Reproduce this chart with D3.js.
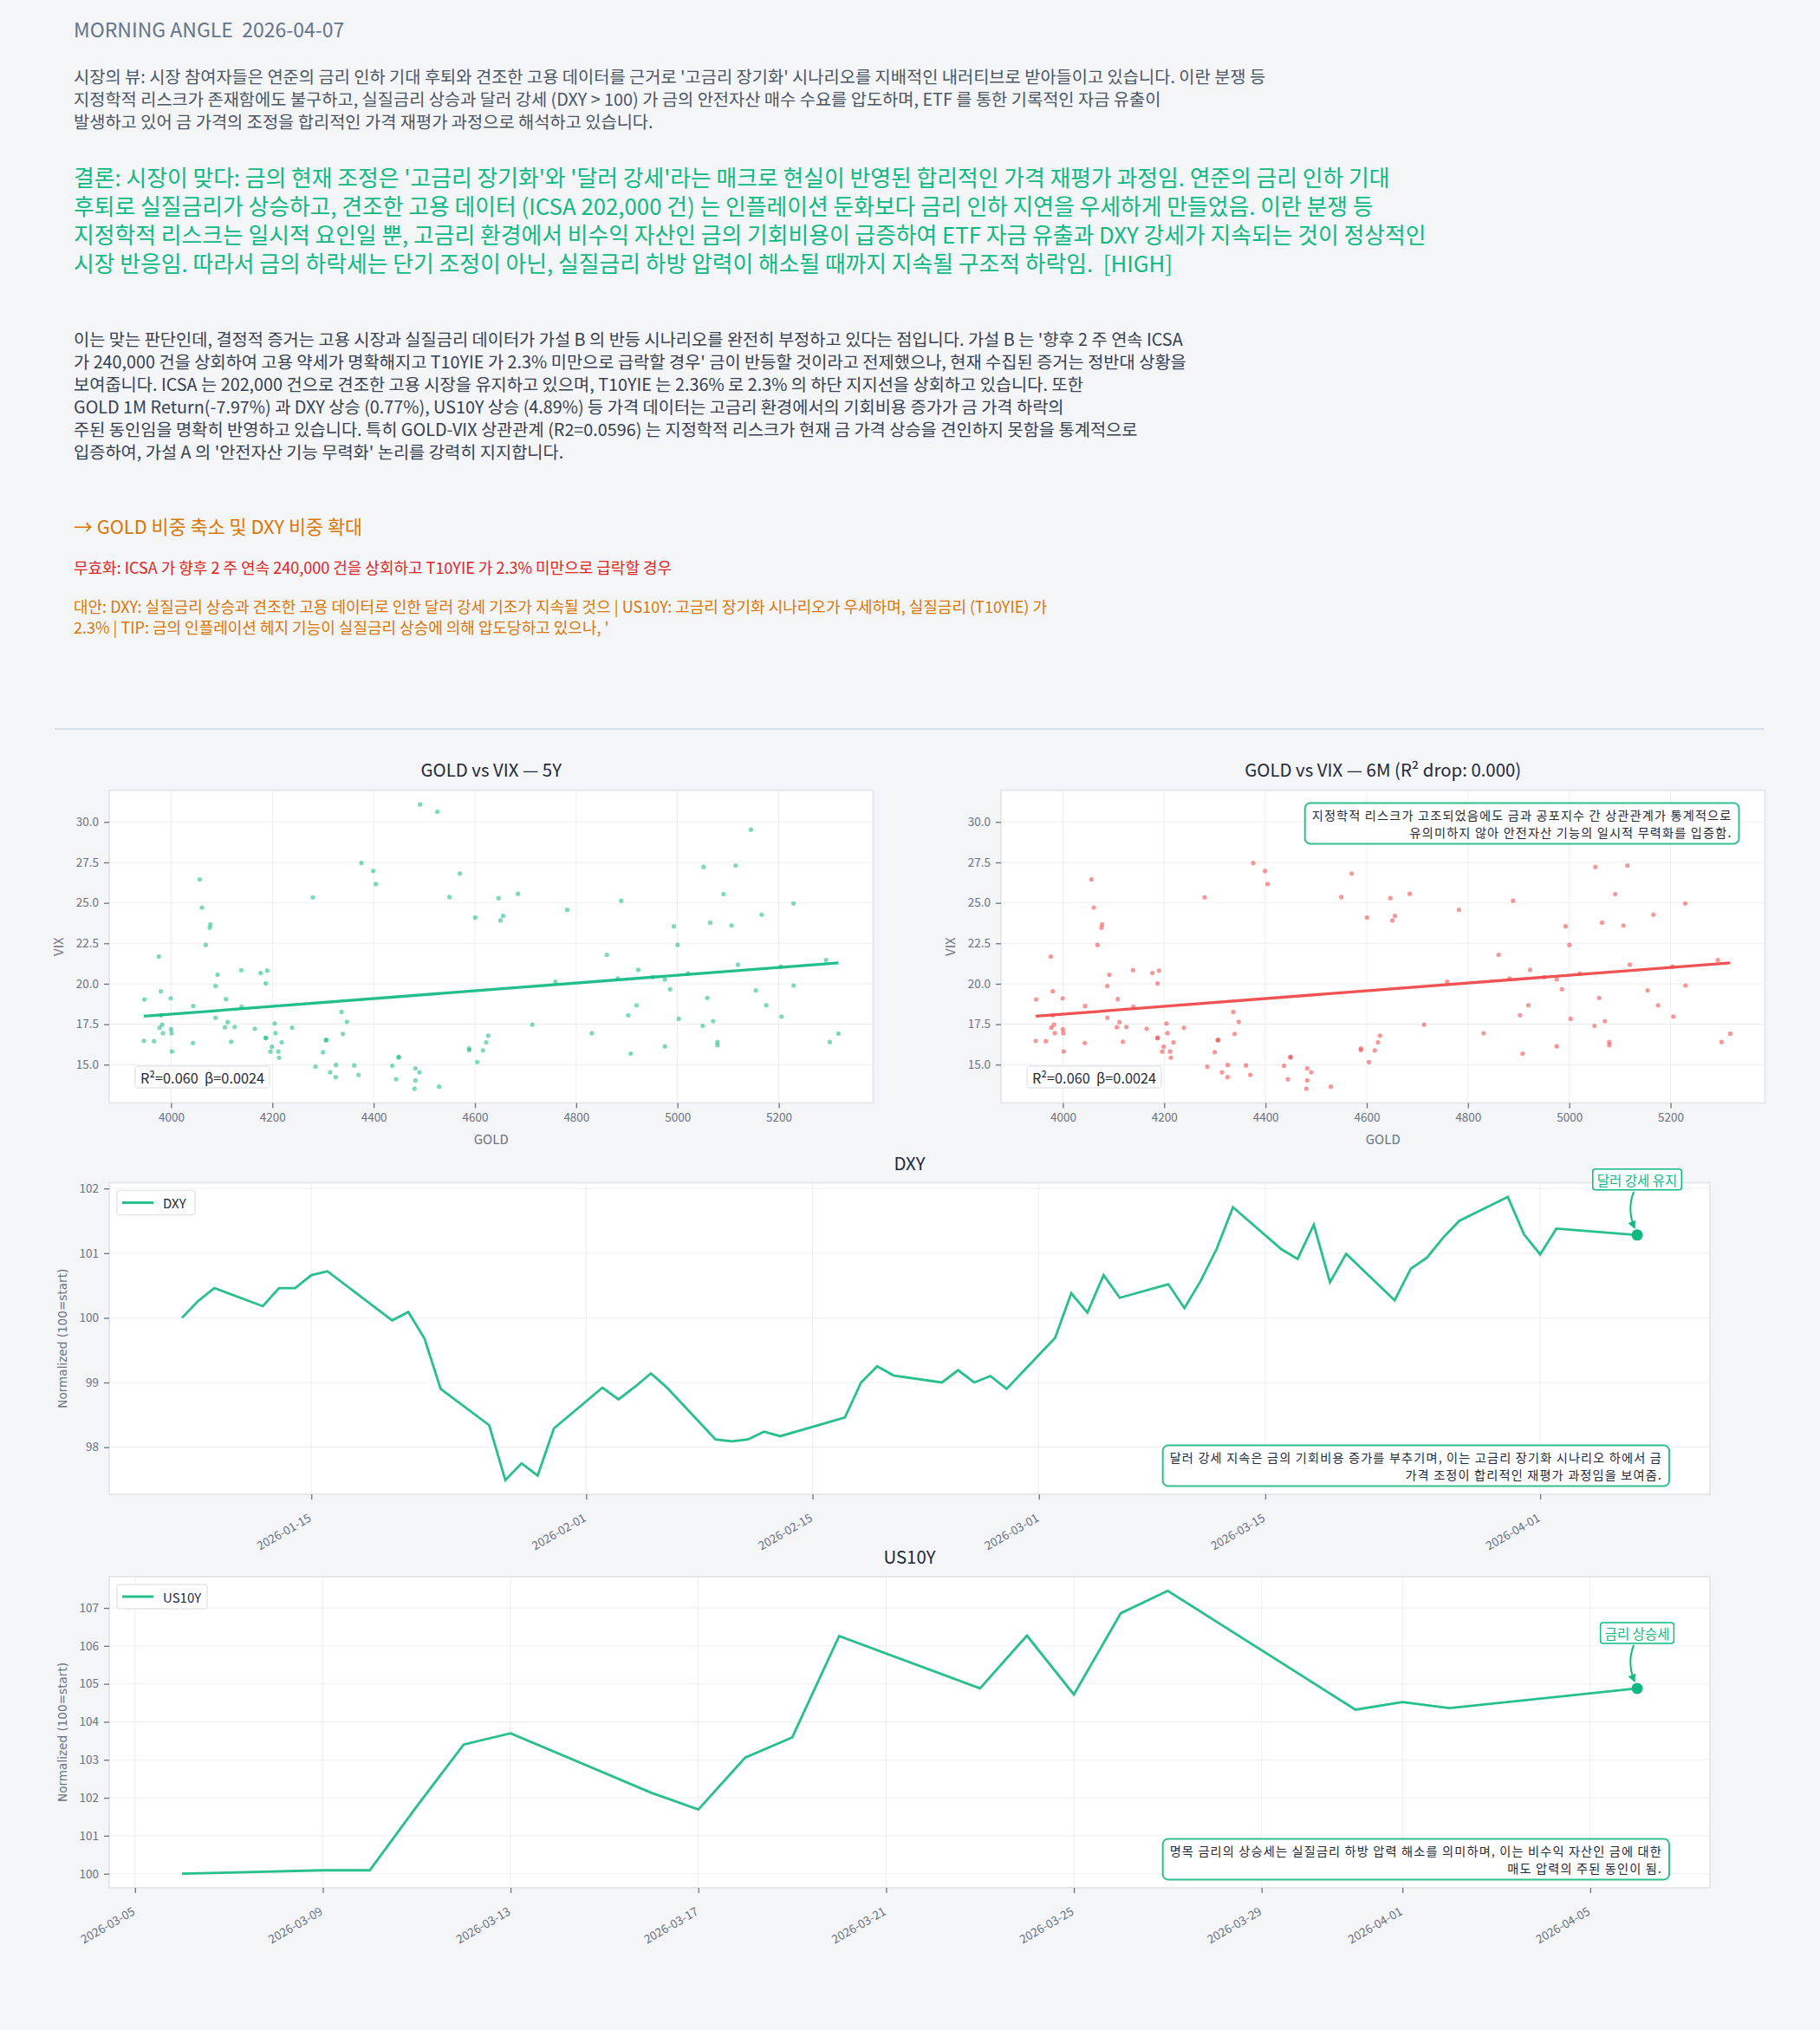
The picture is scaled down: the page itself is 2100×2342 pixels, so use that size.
<!DOCTYPE html>
<html><head><meta charset="utf-8">
<script src="https://cdn.jsdelivr.net/npm/d3@7"></script>
<style>
html,body{margin:0;padding:0;background:#f4f5f7;}
svg{display:block;}
text{font-family:"Noto Sans CJK KR","Noto Sans",sans-serif;white-space:pre;}
</style></head><body>
<svg id="c" width="2100" height="2342"></svg>
<script>
// ---------------- DATA ----------------
const headerTitle = "MORNING ANGLE  2026-04-07";
const viewLines = [
 "시장의 뷰: 시장 참여자들은 연준의 금리 인하 기대 후퇴와 견조한 고용 데이터를 근거로 '고금리 장기화' 시나리오를 지배적인 내러티브로 받아들이고 있습니다. 이란 분쟁 등",
 "지정학적 리스크가 존재함에도 불구하고, 실질금리 상승과 달러 강세 (DXY > 100) 가 금의 안전자산 매수 수요를 압도하며, ETF 를 통한 기록적인 자금 유출이",
 "발생하고 있어 금 가격의 조정을 합리적인 가격 재평가 과정으로 해석하고 있습니다."
];
const conclusionLines = [
 "결론: 시장이 맞다: 금의 현재 조정은 '고금리 장기화'와 '달러 강세'라는 매크로 현실이 반영된 합리적인 가격 재평가 과정임. 연준의 금리 인하 기대",
 "후퇴로 실질금리가 상승하고, 견조한 고용 데이터 (ICSA 202,000 건) 는 인플레이션 둔화보다 금리 인하 지연을 우세하게 만들었음. 이란 분쟁 등",
 "지정학적 리스크는 일시적 요인일 뿐, 고금리 환경에서 비수익 자산인 금의 기회비용이 급증하여 ETF 자금 유출과 DXY 강세가 지속되는 것이 정상적인",
 "시장 반응임. 따라서 금의 하락세는 단기 조정이 아닌, 실질금리 하방 압력이 해소될 때까지 지속될 구조적 하락임.  [HIGH]"
];
const evidenceLines = [
 "이는 맞는 판단인데, 결정적 증거는 고용 시장과 실질금리 데이터가 가설 B 의 반등 시나리오를 완전히 부정하고 있다는 점입니다. 가설 B 는 '향후 2 주 연속 ICSA",
 "가 240,000 건을 상회하여 고용 약세가 명확해지고 T10YIE 가 2.3% 미만으로 급락할 경우' 금이 반등할 것이라고 전제했으나, 현재 수집된 증거는 정반대 상황을",
 "보여줍니다. ICSA 는 202,000 건으로 견조한 고용 시장을 유지하고 있으며, T10YIE 는 2.36% 로 2.3% 의 하단 지지선을 상회하고 있습니다. 또한",
 "GOLD 1M Return(-7.97%) 과 DXY 상승 (0.77%), US10Y 상승 (4.89%) 등 가격 데이터는 고금리 환경에서의 기회비용 증가가 금 가격 하락의",
 "주된 동인임을 명확히 반영하고 있습니다. 특히 GOLD-VIX 상관관계 (R2=0.0596) 는 지정학적 리스크가 현재 금 가격 상승을 견인하지 못함을 통계적으로",
 "입증하여, 가설 A 의 '안전자산 기능 무력화' 논리를 강력히 지지합니다."
];
const actionLine = "→ GOLD 비중 축소 및 DXY 비중 확대";
const invalidLine = "무효화: ICSA 가 향후 2 주 연속 240,000 건을 상회하고 T10YIE 가 2.3% 미만으로 급락할 경우";
const altLines = [
 "대안: DXY: 실질금리 상승과 견조한 고용 데이터로 인한 달러 강세 기조가 지속될 것으 | US10Y: 고금리 장기화 시나리오가 우세하며, 실질금리 (T10YIE) 가",
 "2.3% | TIP: 금의 인플레이션 헤지 기능이 실질금리 상승에 의해 압도당하고 있으나, '"
];

const goldX = [3947.5,3946.4,3966.4,3976.0,3980.0,3980.0,3982.3,3977.2,3984.0,3999.4,4000.0,4001.0,4001.7,4043.9,4043.3,4056.5,4061.0,4077.6,4076.4,4068.4,4091.8,4087.8,4108.4,4087.8,4111.8,4106.6,4125.5,4118.6,4138.6,4139.2,4176.8,4189.9,4187.0,4165.4,4187.0,4187.0,4204.7,4206.4,4199.0,4196.2,4211.6,4218.4,4213.3,4239.0,4280.0,4285.1,4300.0,4305.7,4306.8,4314.2,4325.6,4325.0,4336.5,4347.3,4339.3,4361.6,4370.1,4375.8,4399.2,4404.3,4436.8,4444.3,4449.4,4449.4,4482.5,4490.5,4482.5,4480.8,4491.6,4525.8,4529.2,4549.8,4570.3,4600.5,4588.5,4588.5,4604.5,4615.9,4622.2,4626.2,4646.6,4655.7,4650.6,4684.8,4713.3,4758.9,4782.3,4830.8,4860.5,4882.1,4889.0,4922.6,4919.2,4902.7,4907.8,4950.6,4975.1,4985.4,4975.1,4992.8,5000.2,5002.5,5020.7,5051.5,5049.8,5058.9,5064.6,5070.3,5078.9,5078.9,5090.8,5106.8,5114.8,5119.4,5145.0,5154.7,5166.1,5175.3,5203.8,5205.5,5228.9,5229.4,5293.3,5300.7,5317.8];
const vixY = [19.03,16.47,16.45,21.68,19.53,18.05,17.47,17.28,16.95,19.10,17.19,16.95,15.82,18.62,16.34,26.45,24.71,23.67,23.46,22.40,20.56,19.86,19.05,17.90,17.63,17.31,17.33,16.42,20.84,18.58,20.66,20.81,20.02,17.22,16.67,16.63,17.54,16.95,16.11,15.81,15.81,16.38,15.43,17.28,25.34,14.87,15.77,16.52,16.52,14.53,14.98,14.23,18.26,17.65,16.90,14.95,14.37,27.46,26.97,26.16,14.93,14.10,15.45,15.48,14.77,14.53,14.03,13.51,31.08,30.63,13.64,25.36,26.81,24.09,16.00,15.90,15.16,15.88,16.38,16.79,25.29,24.19,23.91,25.56,17.47,20.13,24.57,16.94,21.79,20.32,25.13,20.86,18.67,18.05,15.68,20.41,20.27,19.66,16.13,23.55,22.40,17.83,20.63,27.22,17.40,19.12,23.78,17.69,16.40,16.20,25.54,23.60,27.31,21.18,29.52,19.59,24.27,18.67,21.06,17.97,24.96,19.89,21.47,16.40,16.92];
const goldTicks = [4000,4200,4400,4600,4800,5000,5200];
const vixTicks = [15,17.5,20,22.5,25,27.5,30];
const statLabel = "R²=0.060  β=0.0024";
const scatterTitles = ["GOLD vs VIX — 5Y", "GOLD vs VIX — 6M (R² drop: 0.000)"];
const scatterNote = ["지정학적 리스크가 고조되었음에도 금과 공포지수 간 상관관계가 통계적으로", "유의미하지 않아 안전자산 기능의 일시적 무력화를 입증함."];

const dxyDates = ["2026-01-07","2026-01-08","2026-01-09","2026-01-12","2026-01-13","2026-01-14","2026-01-15","2026-01-16","2026-01-20","2026-01-21","2026-01-22","2026-01-23","2026-01-26","2026-01-27","2026-01-28","2026-01-29","2026-01-30","2026-02-02","2026-02-03","2026-02-04","2026-02-05","2026-02-06","2026-02-09","2026-02-10","2026-02-11","2026-02-12","2026-02-13","2026-02-17","2026-02-18","2026-02-19","2026-02-20","2026-02-23","2026-02-24","2026-02-25","2026-02-26","2026-02-27","2026-03-02","2026-03-03","2026-03-04","2026-03-05","2026-03-06","2026-03-09","2026-03-10","2026-03-11","2026-03-12","2026-03-13","2026-03-16","2026-03-17","2026-03-18","2026-03-19","2026-03-20","2026-03-23","2026-03-24","2026-03-25","2026-03-26","2026-03-27","2026-03-30","2026-03-31","2026-04-01","2026-04-02","2026-04-07"];
const dxyValues = [100.0,100.26,100.46,100.18,100.46,100.46,100.66,100.72,99.96,100.09,99.68,98.90,98.34,97.49,97.75,97.56,98.29,98.92,98.74,98.93,99.14,98.92,98.12,98.09,98.12,98.24,98.17,98.46,99.0,99.25,99.11,99.0,99.19,99.0,99.10,98.90,99.69,100.38,100.08,100.66,100.31,100.52,100.15,100.57,101.07,101.71,101.06,100.91,101.44,100.55,100.99,100.27,100.76,100.93,101.24,101.50,101.87,101.29,100.98,101.38,101.28];
const dxyTicks = ["2026-01-15","2026-02-01","2026-02-15","2026-03-01","2026-03-15","2026-04-01"];
const dxyYTicks = [98,99,100,101,102];

const usDates = ["2026-03-06","2026-03-09","2026-03-10","2026-03-11","2026-03-12","2026-03-13","2026-03-16","2026-03-17","2026-03-18","2026-03-19","2026-03-20","2026-03-23","2026-03-24","2026-03-25","2026-03-26","2026-03-27","2026-03-31","2026-04-01","2026-04-02","2026-04-06"];
const usValues = [100.0,100.09,100.09,101.77,103.40,103.70,102.13,101.69,103.06,103.59,106.26,104.88,106.27,104.72,106.86,107.45,104.32,104.52,104.36,104.88];
const usTicks = ["2026-03-05","2026-03-09","2026-03-13","2026-03-17","2026-03-21","2026-03-25","2026-03-29","2026-04-01","2026-04-05"];
const usYTicks = [100,101,102,103,104,105,106,107];

const dxyTag = "달러 강세 유지";
const dxyNote = ["달러 강세 지속은 금의 기회비용 증가를 부추기며, 이는 고금리 장기화 시나리오 하에서 금", "가격 조정이 합리적인 재평가 과정임을 보여줌."];
const usTag = "금리 상승세";
const usNote = ["명목 금리의 상승세는 실질금리 하방 압력 해소를 의미하며, 이는 비수익 자산인 금에 대한", "매도 압력의 주된 동인이 됨."];

// ---------------- DRAW ----------------
const GREEN = "#10b981", RED = "#ef4444", AX = "#6b7280", DARK = "#1f2937";
const svg = d3.select("#c");
svg.append("rect").attr("width", 2100).attr("height", 2342).attr("fill", "#f4f5f7");
const defs = svg.append("defs");
defs.append("marker").attr("id", "arr").attr("viewBox", "0 0 10 10").attr("refX", 9).attr("refY", 5)
  .attr("markerWidth", 9).attr("markerHeight", 9).attr("markerUnits", "userSpaceOnUse").attr("orient", "auto")
  .append("path").attr("d", "M0,0 L10,5 L0,10 z").attr("fill", GREEN);

function txt(s, x, y, size, color, opts = {}) {
  const t = svg.append("text").attr("x", x).attr("y", y).attr("font-size", size).attr("fill", color)
    .attr("dominant-baseline", "central").text(s);
  if (opts.anchor) t.attr("text-anchor", opts.anchor);
  if (opts.family) t.style("font-family", opts.family);
  return t;
}
function block(lines, x, y0, dy, size, color) {
  lines.forEach((l, i) => txt(l, x, y0 + i * dy, size, color));
}

txt(headerTitle, 85, 33, 23, "#64748b");
block(viewLines, 85, 87, 26.2, 19.8, "#4b5563");
block(conclusionLines, 85, 203, 33, 25.8, "#10b981");
block(evidenceLines, 85, 390, 26, 19.8, "#374151");
txt(actionLine, 85, 606, 21.8, "#d97706");
txt(invalidLine, 85, 654, 18, "#dc2626");
block(altLines, 85, 699, 24, 18, "#d97706");
svg.append("line").attr("x1", 63).attr("x2", 2036).attr("y1", 841).attr("y2", 841)
  .attr("stroke", "#cbd5e1").attr("stroke-width", 1.5);

function padDomain(ext) { const s = ext[1] - ext[0]; return [ext[0] - 0.05 * s, ext[1] + 0.05 * s]; }

// two-line right-aligned note inside a rounded green box, centred on yCenter
function noteBox(g, lines, xRight, yCenter) {
  const size = 14.2, dy = 20.8, pad = [8, 3];
  const y0 = yCenter - dy * (lines.length - 1) / 2;
  const t = g.append("text").attr("text-anchor", "end").attr("font-size", size).attr("fill", DARK)
    .attr("letter-spacing", 1.15);
  lines.forEach((l, i) => t.append("tspan").attr("x", xRight).attr("y", y0 + i * dy)
    .attr("dominant-baseline", "central").text(l));
  const bb = t.node().getBBox();
  g.insert("rect", "text").attr("x", bb.x - pad[0]).attr("y", bb.y - pad[1])
    .attr("width", bb.width + 2 * pad[0]).attr("height", bb.height + 2 * pad[1])
    .attr("rx", 6).attr("fill", "#fff").attr("stroke", "#2fbf8b").attr("stroke-width", 2);
}

function styleAxis(a) {
  a.select(".domain").remove();
  a.selectAll("line").attr("stroke", AX).attr("stroke-width", 1.3);
  a.selectAll("text").attr("fill", AX).attr("font-size", 13.5).style("font-family", '"Noto Sans CJK KR",sans-serif');
}

function scatter(cfg) {
  const { x0, x1, y0, y1, color, title, note } = cfg;
  const g = svg.append("g");
  const xs = d3.scaleLinear().domain(padDomain(d3.extent(goldX))).range([x0, x1]);
  const ys = d3.scaleLinear().domain(padDomain(d3.extent(vixY))).range([y1, y0]);
  g.append("rect").attr("x", x0).attr("y", y0).attr("width", x1 - x0).attr("height", y1 - y0).attr("fill", "#fff");
  goldTicks.forEach(t => g.append("line").attr("x1", xs(t)).attr("x2", xs(t)).attr("y1", y0).attr("y2", y1)
    .attr("stroke", "#eceef1").attr("stroke-width", 1));
  vixTicks.forEach(t => g.append("line").attr("x1", x0).attr("x2", x1).attr("y1", ys(t)).attr("y2", ys(t))
    .attr("stroke", "#eceef1").attr("stroke-width", 1));
  const pts = goldX.map((x, i) => [x, vixY[i]]);
  g.selectAll("circle.p").data(pts).enter().append("circle")
    .attr("cx", d => xs(d[0])).attr("cy", d => ys(d[1])).attr("r", 2.6)
    .attr("fill", color).attr("fill-opacity", 0.55);
  // least squares fit from the data
  const mx = d3.mean(goldX), my = d3.mean(vixY);
  const b = d3.sum(pts, d => (d[0] - mx) * (d[1] - my)) / d3.sum(pts, d => (d[0] - mx) ** 2);
  const a = my - b * mx;
  const [lo, hi] = d3.extent(goldX);
  g.append("line").attr("x1", xs(lo)).attr("x2", xs(hi)).attr("y1", ys(a + b * lo)).attr("y2", ys(a + b * hi))
    .attr("stroke", color).attr("stroke-width", 3.3).attr("stroke-opacity", 0.92);
  g.append("rect").attr("x", x0).attr("y", y0).attr("width", x1 - x0).attr("height", y1 - y0)
    .attr("fill", "none").attr("stroke", "#e5e7eb").attr("stroke-width", 2);
  const xa = g.append("g").attr("transform", `translate(0,${y1})`)
    .call(d3.axisBottom(xs).tickValues(goldTicks).tickFormat(d3.format("d")).tickSize(6).tickPadding(6).tickSizeOuter(0));
  const ya = g.append("g").attr("transform", `translate(${x0},0)`)
    .call(d3.axisLeft(ys).tickValues(vixTicks).tickFormat(d3.format(".1f")).tickSize(6).tickPadding(6).tickSizeOuter(0));
  styleAxis(xa); styleAxis(ya);
  txt(title, (x0 + x1) / 2, 887, 20.4, DARK, { anchor: "middle" });
  txt("GOLD", (x0 + x1) / 2, 1313, 15, AX, { anchor: "middle" });
  svg.append("text").attr("transform", `translate(${x0 - 60},${(y0 + y1) / 2}) rotate(-90)`)
    .attr("text-anchor", "middle").attr("dominant-baseline", "central").attr("font-size", 15).attr("fill", AX).text("VIX");
  // stat label
  const sg = svg.append("g");
  const st = sg.append("text").attr("x", x0 + 36).attr("y", 1243).attr("dominant-baseline", "central")
    .attr("font-size", 16.3).attr("fill", DARK).text(statLabel);
  const bb = st.node().getBBox();
  sg.insert("rect", "text").attr("x", bb.x - 6).attr("y", 1230).attr("width", bb.width + 12).attr("height", 25)
    .attr("rx", 4).attr("fill", "#fff").attr("stroke", "#e5e7eb").attr("stroke-width", 1.5);
  if (note) noteBox(svg.append("g"), note, x1 - 38, 950);
}

scatter({ x0: 126, x1: 1007.5, y0: 911.7, y1: 1272.5, color: GREEN, title: scatterTitles[0] });
scatter({ x0: 1155, x1: 2036.5, y0: 911.7, y1: 1272.5, color: RED, title: scatterTitles[1], note: scatterNote });

const parse = d3.timeParse("%Y-%m-%d");

function lineChart(cfg) {
  const { dates, values, ticks, yTicks, x0, x1, y0, y1, name, title, tag, note, legendW } = cfg;
  const D = dates.map(parse);
  const g = svg.append("g");
  const ext = d3.extent(D), span = ext[1] - ext[0];
  const xs = d3.scaleTime().domain([new Date(+ext[0] - 0.05 * span), new Date(+ext[1] + 0.05 * span)]).range([x0, x1]);
  const ys = d3.scaleLinear().domain(padDomain(d3.extent(values))).range([y1, y0]);
  g.append("rect").attr("x", x0).attr("y", y0).attr("width", x1 - x0).attr("height", y1 - y0).attr("fill", "#fff");
  const tD = ticks.map(parse);
  tD.forEach(t => g.append("line").attr("x1", xs(t)).attr("x2", xs(t)).attr("y1", y0).attr("y2", y1)
    .attr("stroke", "#eceef1").attr("stroke-width", 1));
  yTicks.forEach(t => g.append("line").attr("x1", x0).attr("x2", x1).attr("y1", ys(t)).attr("y2", ys(t))
    .attr("stroke", "#eceef1").attr("stroke-width", 1));
  const pts = D.map((d, i) => [d, values[i]]);
  g.append("path").datum(pts).attr("fill", "none").attr("stroke", GREEN).attr("stroke-opacity", 0.9)
    .attr("stroke-width", 2.8).attr("stroke-linejoin", "miter")
    .attr("d", d3.line().x(d => xs(d[0])).y(d => ys(d[1])));
  g.append("rect").attr("x", x0).attr("y", y0).attr("width", x1 - x0).attr("height", y1 - y0)
    .attr("fill", "none").attr("stroke", "#e5e7eb").attr("stroke-width", 2);
  const xa = g.append("g").attr("transform", `translate(0,${y1})`)
    .call(d3.axisBottom(xs).tickValues(tD).tickFormat(d3.timeFormat("%Y-%m-%d")).tickSize(6).tickSizeOuter(0));
  xa.selectAll("text").attr("text-anchor", "end").attr("dominant-baseline", "hanging")
    .attr("x", 0).attr("y", 0).attr("dy", null).attr("transform", "translate(-6,19) rotate(-30)");
  const ya = g.append("g").attr("transform", `translate(${x0},0)`)
    .call(d3.axisLeft(ys).tickValues(yTicks).tickFormat(d3.format("d")).tickSize(6).tickPadding(6).tickSizeOuter(0));
  styleAxis(xa); styleAxis(ya);
  txt(title, (x0 + x1) / 2, y0 - 24, 20.4, DARK, { anchor: "middle" });
  svg.append("text").attr("transform", `translate(72,${(y0 + y1) / 2}) rotate(-90)`)
    .attr("text-anchor", "middle").attr("dominant-baseline", "central").attr("font-size", 13.6).attr("fill", AX)
    .style("font-family", '"DejaVu Sans",sans-serif').text("Normalized (100=start)");
  // legend
  const lg = svg.append("g");
  lg.append("rect").attr("x", x0 + 9).attr("y", y0 + 9).attr("width", legendW).attr("height", 28).attr("rx", 3)
    .attr("fill", "#fff").attr("stroke", "#e5e7eb").attr("stroke-width", 1.5);
  lg.append("line").attr("x1", x0 + 15).attr("x2", x0 + 51).attr("y1", y0 + 23).attr("y2", y0 + 23)
    .attr("stroke", GREEN).attr("stroke-opacity", 0.9).attr("stroke-width", 3);
  lg.append("text").attr("x", x0 + 62).attr("y", y0 + 23).attr("dominant-baseline", "central")
    .attr("font-size", 15).attr("fill", DARK).text(name);
  // last point marker + arrow tag
  const last = pts[pts.length - 1];
  const lx = xs(last[0]), ly = ys(last[1]);
  svg.append("circle").attr("cx", lx).attr("cy", ly).attr("r", 6.5).attr("fill", GREEN);
  const tg = svg.append("g");
  const tt = tg.append("text").attr("x", lx).attr("y", ly - 64).attr("text-anchor", "middle")
    .attr("dominant-baseline", "central").attr("font-size", 15.5).attr("fill", GREEN).text(tag);
  const bb = tt.node().getBBox();
  tg.insert("rect", "text").attr("x", bb.x - 5).attr("y", ly - 76).attr("width", bb.width + 10).attr("height", 24)
    .attr("rx", 3).attr("fill", "#fff").attr("stroke", GREEN).attr("stroke-width", 1.5);
  const sx = lx - 4, sy = ly - 50, ex = lx - 3, ey = ly - 8;
  svg.append("path").attr("d", `M${sx},${sy} Q${lx - 12},${(sy + ey) / 2} ${ex},${ey}`)
    .attr("fill", "none").attr("stroke", GREEN).attr("stroke-width", 2).attr("marker-end", "url(#arr)");
  noteBox(svg.append("g"), note, x1 - 55, y1 - 33);
}

lineChart({ dates: dxyDates, values: dxyValues, ticks: dxyTicks, yTicks: dxyYTicks, x0: 126, x1: 1973, y0: 1364.5, y1: 1724,
  name: "DXY", title: "DXY", tag: dxyTag, note: dxyNote, legendW: 90 });
lineChart({ dates: usDates, values: usValues, ticks: usTicks, yTicks: usYTicks, x0: 126, x1: 1973, y0: 1819, y1: 2178,
  name: "US10Y", title: "US10Y", tag: usTag, note: usNote, legendW: 104 });
</script>
</body></html>
